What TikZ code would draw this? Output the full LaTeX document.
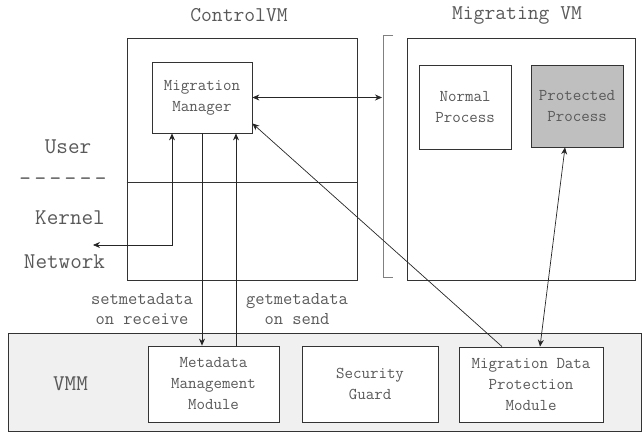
\documentclass[tikz,border=0pt]{standalone}
\usepackage{fontspec}
\usepackage{tikz}
\usetikzlibrary{arrows.meta,positioning,calc}

\begin{document}
\begin{tikzpicture}[x=1pt, y=-1pt,
    frame/.style={draw=black!80, line width=0.8pt},
    blk/.style={draw=black!80, line width=0.8pt, fill=white, align=center, inner sep=1pt, text=black!65, font=\ttfamily\fontsize{16.5}{21}\selectfont},
    arr/.style={-{Stealth[length=7pt,width=6pt]}, line width=0.7pt, black!85},
    darr/.style={{Stealth[length=7pt,width=6pt]}-{Stealth[length=7pt,width=6pt]}, line width=0.7pt, black!85},
    ttl/.style={text=black!65, font=\ttfamily\fontsize{21}{24}\selectfont},
    side/.style={text=black!65, font=\ttfamily\fontsize{22.5}{24}\selectfont},
    lbl/.style={text=black!65, align=center, font=\ttfamily\fontsize{18}{20}\selectfont}
]
\useasboundingbox (0,0) rectangle (642,446);

% frames
\node[frame, fill=black!6, minimum width=633pt, minimum height=98pt] (V) at (324.5,382) {};
\node[frame, minimum width=230pt, minimum height=242pt] (C) at (242,159) {};
\node[frame, minimum width=228pt, minimum height=242pt] (G) at (521,159) {};
\draw[frame] ($(C.west)+(0,23)$) -- ($(C.east)+(0,23)$);
\draw[gray, line width=0.8pt] (393,35) -- (383,35) -- (383,277) -- (393,277);
\coordinate (B) at (382,98);
\coordinate (Wn) at (93,245);

\node[ttl] (Ct) at (239,15) {ControlVM};
\node[ttl] (Gt) at (517,15) {Migrating VM};

% boxes
\node[blk, minimum width=100pt, minimum height=71pt] (M) at (202,97.5) {Migration\\Manager};
\node[blk, minimum width=92pt, minimum height=84pt] (N) at (465,107) {Normal\\Process};
\node[blk, fill=black!25, minimum width=92pt, minimum height=82pt] (P) at (577,106) {Protected\\Process};
\node[blk, minimum width=131pt, minimum height=76pt] (D) at (213.5,384) {Metadata\\Management\\Module};
\node[blk, minimum width=136pt, minimum height=76pt] (S) at (370,384) {Security\\Guard};
\node[blk, minimum width=144pt, minimum height=75pt] (R) at (531,384.5) {Migration Data\\Protection\\Module};

% side labels
\node[side] (U) at (68,147) {User};
\node[side] (Dl) at (63,182) {-\kern3.5pt-\kern3.5pt-\kern3.5pt-\kern3.5pt-\kern3.5pt-};
\node[side] (K) at (70,218) {Kernel};
\node[side] (Nw) at (64.5,262) {Network};
\node[side] (Vl) at (70.5,384) {VMM};

\node[lbl] (sl) at (142,309) {setmetadata\\on receive};
\node[lbl] (gl) at (297,309) {getmetadata\\on send};

% connectors
\draw[darr] (M.east) -- (M.east -| B);
\draw[darr] (Wn) -| ([xshift=-30pt]M.south);
\draw[arr] (M.south) -- (M.south |- D.north);
\coordinate (Mg) at ([xshift=34pt]M.south);
\draw[arr] (Mg |- D.north) -- (Mg);
\draw[arr] ([xshift=-29pt]R.north) -- ([yshift=10pt]M.south east);
\draw[darr] ([xshift=9pt]R.north) -- ([xshift=-12pt]P.south);
\end{tikzpicture}
\end{document}
